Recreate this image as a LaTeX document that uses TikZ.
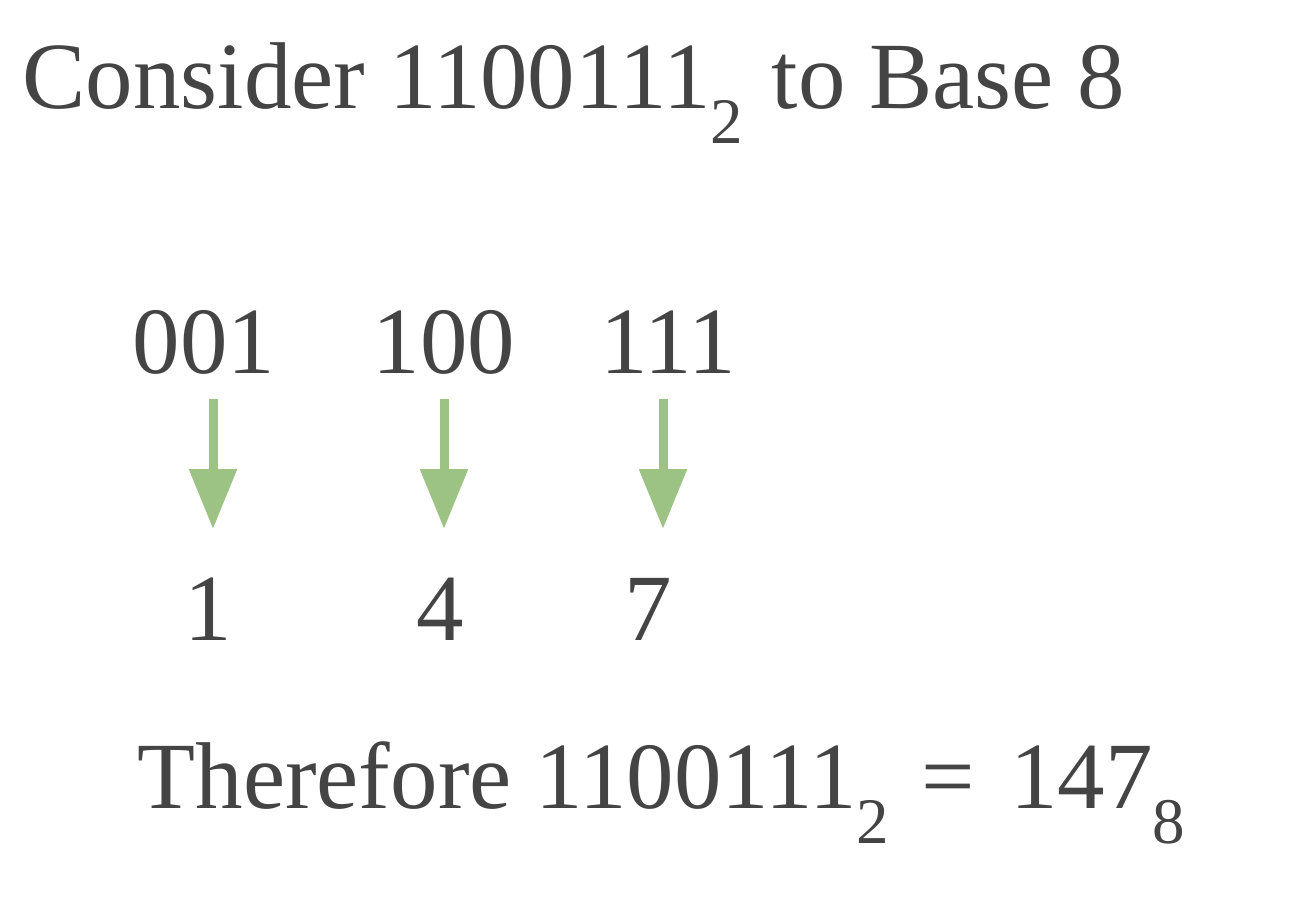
\documentclass[tikz,border=0pt]{standalone}
\usepackage{fontspec}
\setmainfont{Liberation Serif}
\usepackage{tikz}
\usetikzlibrary{arrows.meta, positioning}
\usepackage{xcolor}

\definecolor{txtgray}{HTML}{444444}
\definecolor{convgreen}{HTML}{9DC384}

\newcommand{\bsub}[1]{\raisebox{-0.35cm}{\fontsize{18.5pt}{19pt}\selectfont #1}}

\begin{document}
\begin{tikzpicture}[
  big/.style={font=\fontsize{27pt}{30pt}\selectfont, text=txtgray, inner sep=0pt, anchor=base},
  bigleft/.style={big, anchor=base west},
  conv/.style={draw=convgreen, line width=0.09cm, -{Triangle[length=0.6cm, width=0.46cm]}}
]
\useasboundingbox (0,0) rectangle (12.92,-9.12);

\def\rowg{-3.73}
\def\rowo{-6.40}

% heading
\node[bigleft] (title) at (0.22,-1.08) {Consider 1100111\bsub{2} \hspace{0.05cm}to Base 8};

% groups of three bits
\node[big] (g1) at (2.04,\rowg) {001};
\node[big] (g2) at (4.44,\rowg) {100};
\node[big] (g3) at (6.68,\rowg) {111};

% octal digits
\node[big] (o1) at (2.08,\rowo) {1};
\node[big] (o2) at (4.40,\rowo) {4};
\node[big] (o3) at (6.48,\rowo) {7};

% arrows
\foreach \i/\x in {1/2.13, 2/4.44, 3/6.63} {
  \coordinate (s\i) at (\x,-3.99);
  \coordinate (e\i) at (\x,-5.29);
  \draw[conv] (s\i) -- (e\i);
}

% result
\node[bigleft] (result) at (1.37,-8.08) {Therefore 1100111\bsub{2} \hspace{0.08cm}=\hspace{0.12cm} 147\bsub{8}};

\end{tikzpicture}
\end{document}
